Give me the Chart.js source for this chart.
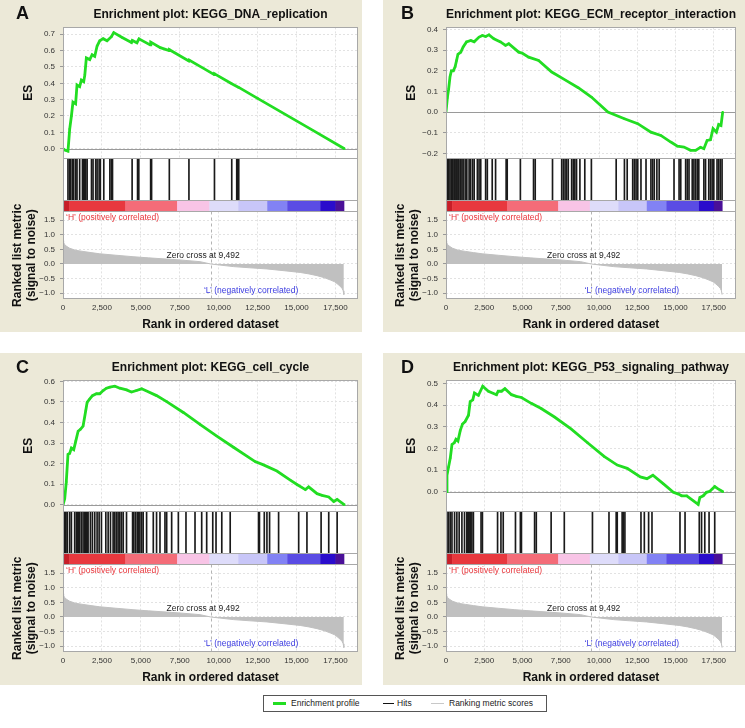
<!DOCTYPE html>
<html>
<head>
<meta charset="utf-8">
<script src="https://cdn.jsdelivr.net/npm/chart.js@4.4.1/dist/chart.umd.min.js"></script>
<style>
  body { margin: 0; background: #fff; font-family: "Liberation Sans", Arial, sans-serif; }
  .panel { position: absolute; width: 362px; height: 332px; background: #ece9d8; }
  .panel canvas { position: absolute; left: 0; top: 0; }
  .tag { position: absolute; font: bold 18px/18px "Liberation Sans", Arial, sans-serif; color: #111; }
  #legend { position: absolute; left: 263px; top: 695px; width: 282px; height: 15px; border: 1px solid #555; background: #fff; font-size: 8.5px; color: #222; }
  #legend i { position: absolute; top: 7px; height: 1px; }
  #legend span { position: absolute; top: 2px; white-space: nowrap; }
</style>
</head>
<body>
<div class="panel" style="left:0;top:0"><canvas id="chartA" width="362" height="332"></canvas><div class="tag" style="left:16px;top:4px">A</div></div>
<div class="panel" style="left:383px;top:0"><canvas id="chartB" width="362" height="332"></canvas><div class="tag" style="left:18px;top:4px">B</div></div>
<div class="panel" style="left:0;top:353px"><canvas id="chartC" width="362" height="332"></canvas><div class="tag" style="left:16px;top:5px">C</div></div>
<div class="panel" style="left:383px;top:353px"><canvas id="chartD" width="362" height="332"></canvas><div class="tag" style="left:18px;top:5px">D</div></div>

<div id="legend">
  <i style="left:9px;width:13px;height:3px;top:6px;background:#22dd22"></i><span style="left:27px">Enrichment profile</span>
  <i style="left:119px;width:11px;background:#111"></i><span style="left:133px">Hits</span>
  <i style="left:167px;width:13px;background:#c8c8c8"></i><span style="left:185px">Ranking metric scores</span>
</div>

<script>
// rank axis
const xTicks = [0, 2500, 5000, 7500, 10000, 12500, 15000, 17500];
const zeroCross = 9492;

// ranked list metric (signal to noise), shared by all panels
const metricRanks = [0, 40, 110, 250, 430, 800, 1290, 1800, 2360, 3400, 4500, 5500, 6650, 7700, 8800, 9492, 10950, 12000, 13100, 14200, 15240, 15800, 16320, 16800, 17180, 17450, 17600, 17800, 17930, 18000, 18040];
const metricVals = [0.8, 0.74, 0.66, 0.6, 0.54, 0.47, 0.43, 0.39, 0.35, 0.3, 0.25, 0.21, 0.17, 0.13, 0.08, 0, -0.09, -0.13, -0.17, -0.23, -0.29, -0.34, -0.4, -0.47, -0.55, -0.61, -0.67, -0.76, -0.84, -0.92, -1.05];
const metricTicks = [-1.0, -0.5, 0, 0.5, 1.0, 1.5];

// colour bar under the hits
const cbarBounds = [0, 80, 400, 4000, 7330, 9400, 11260, 13120, 14410, 16530, 17500, 18040];
const cbarColors = ['#8c0a14', '#c81e28', '#e8383e', '#f46c78', '#f8c4e6', '#dedcfa', '#c8c6f8', '#8282f4', '#5a4ce4', '#2a0ccc', '#4a1098'];

// A: KEGG_DNA_replication
const esRankA = [0, 150, 320, 430, 540, 640, 810, 900, 1070, 1180, 1330, 1400, 1500, 1720, 1870, 2040, 2190, 2360, 2580, 2830, 3110, 3260, 3800, 4400, 4450, 4750, 4880, 5600, 5640, 6250, 6820, 6840, 8080, 8100, 9000, 9720, 9740, 10840, 11290, 12500, 14000, 16000, 18080];
const esA = [0, -0.01, -0.015, 0.12, 0.2, 0.285, 0.275, 0.39, 0.38, 0.42, 0.41, 0.45, 0.555, 0.545, 0.575, 0.565, 0.628, 0.66, 0.673, 0.66, 0.685, 0.71, 0.68, 0.65, 0.662, 0.648, 0.672, 0.635, 0.652, 0.618, 0.6, 0.605, 0.537, 0.542, 0.493, 0.453, 0.458, 0.397, 0.375, 0.308, 0.225, 0.115, 0.0];
const hitsA = [320, 430, 490, 600, 690, 820, 900, 1070, 1250, 1330, 1400, 1460, 1550, 1830, 1930, 2100, 2190, 2320, 2400, 2620, 3010, 3110, 3180, 4440, 4790, 4870, 5630, 5690, 6830, 8090, 9730, 10840, 11160, 11230, 11290];
const esTicksA = [0, 0.1, 0.2, 0.3, 0.4, 0.5, 0.6, 0.7];

// B: KEGG_ECM_receptor_interaction
const esRankB = [0, 90, 170, 260, 350, 480, 600, 690, 780, 970, 1120, 1340, 1620, 1840, 2160, 2380, 2590, 2810, 3130, 3560, 3890, 4100, 4750, 4970, 5400, 6050, 6910, 7780, 8640, 9500, 10580, 11660, 12530, 13390, 14040, 14690, 15120, 15550, 15980, 16310, 16630, 16850, 17060, 17280, 17450, 17670, 17820, 17970, 18080];
const esB = [0.0, 0.07, 0.11, 0.17, 0.2, 0.2, 0.22, 0.25, 0.28, 0.29, 0.315, 0.34, 0.347, 0.34, 0.363, 0.371, 0.366, 0.374, 0.355, 0.34, 0.323, 0.331, 0.29, 0.286, 0.266, 0.25, 0.194, 0.156, 0.118, 0.073, 0.0, -0.032, -0.056, -0.097, -0.113, -0.145, -0.165, -0.169, -0.185, -0.185, -0.17, -0.177, -0.137, -0.134, -0.08, -0.097, -0.06, -0.065, 0.0];
const hitsB = [110, 170, 260, 350, 430, 520, 580, 650, 710, 780, 840, 930, 1040, 1120, 1250, 1360, 1510, 1600, 1730, 1840, 2050, 2160, 2270, 2590, 2700, 3020, 3240, 3930, 4000, 4860, 5720, 5830, 6960, 7560, 7670, 7780, 7880, 7990, 8210, 8320, 8420, 8530, 8750, 9070, 9500, 11120, 11660, 11840, 12200, 12310, 12420, 12530, 12740, 13070, 13390, 13500, 13610, 13780, 13930, 14900, 15230, 15340, 15660, 15770, 15880, 16090, 16200, 16310, 16420, 16520, 16850, 16960, 17170, 17280, 17390, 17500, 17710, 17820, 17930, 18040];
const esTicksB = [-0.2, -0.1, 0, 0.1, 0.2, 0.3, 0.4];

// C: KEGG_cell_cycle
const esRankC = [0, 110, 210, 320, 430, 540, 690, 820, 970, 1120, 1290, 1460, 1550, 1720, 1890, 2150, 2360, 2580, 2790, 3010, 3330, 3650, 4080, 4400, 4720, 5050, 5370, 6010, 6660, 7730, 8800, 9880, 10950, 12340, 12880, 13740, 14600, 15030, 15570, 15780, 16320, 16640, 17070, 17390, 17610, 18080];
const esC = [0, 0.03, 0.11, 0.245, 0.25, 0.276, 0.268, 0.31, 0.358, 0.367, 0.383, 0.457, 0.498, 0.515, 0.531, 0.54, 0.54, 0.556, 0.567, 0.572, 0.577, 0.567, 0.559, 0.548, 0.556, 0.564, 0.553, 0.531, 0.502, 0.449, 0.391, 0.334, 0.28, 0.21, 0.194, 0.164, 0.12, 0.099, 0.074, 0.087, 0.054, 0.046, 0.038, 0.016, 0.026, 0.0];
const hitsC = [60, 110, 150, 190, 280, 430, 540, 750, 860, 920, 990, 1070, 1180, 1290, 1400, 1440, 1480, 1520, 1570, 1610, 1760, 1890, 2040, 2190, 2320, 2470, 2750, 2900, 3050, 3220, 3330, 3440, 3540, 3650, 3760, 3870, 4080, 4470, 4550, 4660, 4770, 4870, 4940, 5050, 5150, 5370, 5800, 6010, 6230, 6550, 6660, 6980, 7410, 7900, 8480, 8910, 9230, 9620, 9830, 10200, 10740, 12560, 12620, 12930, 13100, 13270, 13850, 15140, 15670, 16580, 17070, 17610];
const esTicksC = [0, 0.1, 0.2, 0.3, 0.4, 0.5, 0.6];

// D: KEGG_P53_signaling_pathway
const esRankD = [0, 65, 170, 280, 390, 540, 650, 780, 930, 1080, 1250, 1470, 1580, 1750, 1860, 2120, 2400, 2770, 3300, 3410, 3630, 3850, 4280, 4600, 4930, 5570, 6220, 7090, 8170, 9250, 10330, 11190, 11840, 12700, 13130, 13520, 14210, 14860, 15190, 15400, 15730, 16480, 16590, 16810, 17020, 17240, 17560, 17780, 18100];
const esD = [0, 0.076, 0.115, 0.155, 0.218, 0.226, 0.242, 0.234, 0.282, 0.313, 0.324, 0.353, 0.416, 0.424, 0.456, 0.445, 0.487, 0.464, 0.448, 0.464, 0.464, 0.476, 0.448, 0.44, 0.435, 0.408, 0.384, 0.345, 0.29, 0.226, 0.163, 0.123, 0.108, 0.068, 0.06, 0.076, 0.036, -0.003, -0.011, -0.019, -0.019, -0.059, -0.027, -0.019, -0.003, 0.002, 0.024, 0.013, 0.0];
const hitsD = [65, 170, 280, 390, 560, 710, 860, 1040, 1210, 1360, 1430, 1470, 1510, 1580, 1690, 1790, 2290, 2380, 3370, 3590, 3740, 4540, 4860, 4930, 5790, 5900, 6870, 7730, 9570, 10650, 11120, 11190, 11510, 11580, 11690, 12740, 12960, 13240, 13460, 15290, 15620, 16550, 16700, 16910, 17190, 17560];
const esTicksD = [0, 0.1, 0.2, 0.3, 0.4, 0.5];

const FONT = '"Liberation Sans", Arial, sans-serif';
const fmt1 = v => v.toFixed(1).replace('-', '\u2212');
const setTicks = arr => scale => { scale.ticks = arr.map(v => ({ value: v })); };
const axisWidth = scale => { scale.width = 63; };

// extra GSEA drawing: white hit band, colour bar, zero lines, borders, notes
const gseaPlugin = {
  id: 'gsea',
  beforeDraw(chart) {
    const { ctx, chartArea: a } = chart;
    ctx.save();
    ctx.fillStyle = '#fff';
    ctx.fillRect(a.left, a.top, a.width, a.height);
    ctx.restore();
  },
  beforeDatasetsDraw(chart) {
    const { ctx, chartArea: a, scales } = chart;
    const x = scales.x, hits = scales.hits, bar = scales.cbar, es = scales.es;
    ctx.save();
    ctx.fillStyle = '#fff';
    ctx.fillRect(a.left, hits.top, a.width, bar.bottom - hits.top);
    for (let i = 0; i < cbarColors.length; i++) {
      const x0 = x.getPixelForValue(cbarBounds[i]);
      const x1 = x.getPixelForValue(cbarBounds[i + 1]);
      ctx.fillStyle = cbarColors[i];
      ctx.fillRect(x0, bar.top, x1 - x0 + 0.5, bar.bottom - bar.top);
    }
    // ES = 0 line
    const y0 = Math.round(es.getPixelForValue(0)) + 0.5;
    ctx.strokeStyle = '#9a9a9a';
    ctx.lineWidth = 1;
    ctx.beginPath(); ctx.moveTo(a.left, y0); ctx.lineTo(a.right, y0); ctx.stroke();
    // zero cross marker
    const zx = Math.round(x.getPixelForValue(zeroCross)) + 0.5;
    ctx.setLineDash([3, 3]);
    ctx.strokeStyle = '#b4b4b4';
    ctx.beginPath(); ctx.moveTo(zx, bar.bottom); ctx.lineTo(zx, a.bottom); ctx.stroke();
    ctx.restore();
  },
  afterDatasetsDraw(chart) {
    const { ctx, chartArea: a, scales } = chart;
    const x = scales.x, hits = scales.hits, bar = scales.cbar, m = scales.metric;
    ctx.save();
    ctx.strokeStyle = '#a8a8a8';
    ctx.lineWidth = 1;
    ctx.strokeRect(Math.round(a.left) + 0.5, Math.round(a.top) + 0.5, Math.round(a.width) - 1, Math.round(a.height) - 1);
    [hits.top, bar.top, bar.bottom].forEach(y => {
      const yy = Math.round(y) + 0.5;
      ctx.beginPath(); ctx.moveTo(a.left, yy); ctx.lineTo(a.right, yy); ctx.stroke();
    });
    ctx.font = '8.5px ' + FONT;
    ctx.textBaseline = 'middle';
    ctx.textAlign = 'left';
    ctx.fillStyle = '#e8343a';
    ctx.fillText('\u2018H\u2019 (positively correlated)', a.left + 3, bar.bottom + 6);
    ctx.fillStyle = '#3a3ae0';
    ctx.fillText('\u2018L\u2019 (negatively correlated)', x.getPixelForValue(9050), m.getPixelForValue(-0.9));
    ctx.fillStyle = '#222';
    ctx.textAlign = 'center';
    ctx.fillText('Zero cross at ' + zeroCross.toLocaleString('en-US'), x.getPixelForValue(9000), m.getPixelForValue(0.28));
    ctx.restore();
  }
};

function makePanel(id, title, esRanks, esVals, hits, esMin, esMax, esTicks, padRight) {
  const ctx = document.getElementById(id).getContext('2d');
  const tickFont = { family: FONT, size: 8 };
  const titleFont = { family: FONT, size: 12, weight: 'bold' };
  const yGrid = { color: '#e2e2e2', tickColor: '#999', tickLength: 3, tickBorderDash: [] };

  return new Chart(ctx, {
    type: 'line',
    data: {
      datasets: [{
        label: 'Enrichment profile',
        data: esRanks.map((r, i) => ({ x: r, y: esVals[i] })),
        yAxisID: 'es',
        borderColor: '#22dd22',
        backgroundColor: '#22dd22',
        borderWidth: 2.8,
        pointStyle: 'rect',
        pointRadius: 1.4,
        pointBorderWidth: 0,
        tension: 0,
        order: 1
      }, {
        type: 'bar',
        label: 'Hits',
        data: hits.map(r => ({ x: r, y: 1 })),
        yAxisID: 'hits',
        backgroundColor: '#1a1a1a',
        barThickness: 1,
        grouped: false,
        order: 2
      }, {
        label: 'Ranking metric scores',
        data: metricRanks.map((r, i) => ({ x: r, y: metricVals[i] })),
        yAxisID: 'metric',
        borderColor: '#c0c0c0',
        backgroundColor: '#c0c0c0',
        borderWidth: 1,
        pointRadius: 0,
        fill: 'origin',
        tension: 0,
        order: 3
      }]
    },
    options: {
      responsive: false,
      animation: false,
      events: [],
      layout: { padding: { left: 0, right: padRight, top: 0, bottom: 0 } },
      plugins: {
        legend: { display: false },
        tooltip: { enabled: false },
        title: {
          display: true,
          text: title,
          fullSize: false,
          color: '#111',
          font: titleFont,
          padding: { top: 7, bottom: 6 }
        }
      },
      scales: {
        x: {
          type: 'linear',
          offset: false,
          min: 0,
          max: 18950,
          afterBuildTicks: setTicks(xTicks),
          ticks: { font: tickFont, color: '#333', padding: 4, autoSkip: false, maxRotation: 0, callback: v => v.toLocaleString('en-US') },
          grid: { color: '#e2e2e2', drawTicks: false, offset: false },
          border: { display: false, dash: [2, 2] },
          title: { display: true, text: 'Rank in ordered dataset', color: '#111', font: titleFont, padding: { top: 1, bottom: 0 } }
        },
        es: {
          type: 'linear',
          position: 'left',
          stack: 'gsea',
          stackWeight: 130,
          weight: 4,
          min: esMin,
          max: esMax,
          afterBuildTicks: setTicks(esTicks),
          afterFit: axisWidth,
          ticks: { font: tickFont, color: '#333', padding: 5, autoSkip: false, callback: fmt1 },
          grid: yGrid,
          border: { display: false, dash: [2, 2] },
          title: { display: true, text: 'ES', color: '#111', font: titleFont, padding: { top: 21 } }
        },
        hits: {
          type: 'linear',
          position: 'left',
          stack: 'gsea',
          stackWeight: 42,
          weight: 3,
          min: 0,
          max: 1,
          afterFit: axisWidth,
          ticks: { display: false },
          grid: { display: false },
          border: { display: false }
        },
        cbar: {
          type: 'linear',
          position: 'left',
          stack: 'gsea',
          stackWeight: 11,
          weight: 2,
          min: 0,
          max: 1,
          afterFit: axisWidth,
          ticks: { display: false },
          grid: { display: false },
          border: { display: false }
        },
        metric: {
          type: 'linear',
          position: 'left',
          stack: 'gsea',
          stackWeight: 87,
          weight: 1,
          min: -1.2,
          max: 1.8,
          afterBuildTicks: setTicks(metricTicks),
          afterFit: axisWidth,
          ticks: { font: tickFont, color: '#333', padding: 5, autoSkip: false, callback: fmt1 },
          grid: yGrid,
          border: { display: false, dash: [2, 2] },
          title: { display: true, text: ['Ranked list metric', '(signal to noise)'], color: '#111', font: titleFont, padding: { top: 10 } }
        }
      }
    },
    plugins: [gseaPlugin]
  });
}

makePanel('chartA', 'Enrichment plot: KEGG_DNA_replication', esRankA, esA, hitsA, -0.058, 0.742, esTicksA, 4);
makePanel('chartB', 'Enrichment plot: KEGG_ECM_receptor_interaction', esRankB, esB, hitsB, -0.223, 0.41, esTicksB, 9);
makePanel('chartC', 'Enrichment plot: KEGG_cell_cycle', esRankC, esC, hitsC, -0.031, 0.605, esTicksC, 4);
makePanel('chartD', 'Enrichment plot: KEGG_P53_signaling_pathway', esRankD, esD, hitsD, -0.09, 0.514, esTicksD, 9);
</script>
</body>
</html>
